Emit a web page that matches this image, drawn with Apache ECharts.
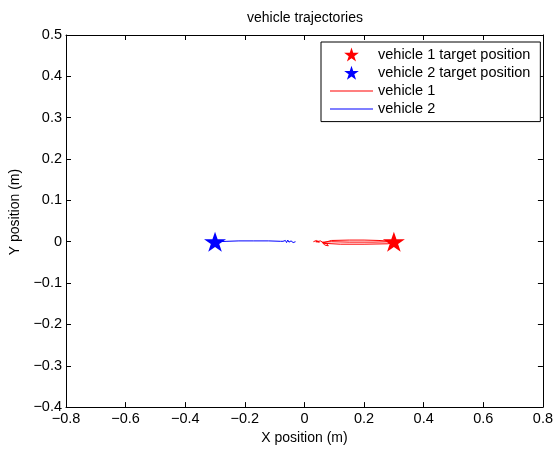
<!DOCTYPE html>
<html>
<head>
<meta charset="utf-8">
<script src="https://cdn.jsdelivr.net/npm/echarts@6/dist/echarts.min.js"></script>
<style>html,body{margin:0;padding:0;background:#fff}#c{width:556px;height:450px}</style>
</head>
<body>
<div id="c"></div>
<script>
// ---- data ----
const target1 = [[0.30, 0.0]];
const target2 = [[-0.30, 0.0]];
const vehicle1X = [0.030, 0.040, 0.050, 0.045, 0.038, 0.055, 0.068, 0.080, 0.075, 0.062, 0.090, 0.150, 0.200, 0.250, 0.290, 0.305, 0.280, 0.200, 0.120, 0.070, 0.060, 0.090, 0.150, 0.230, 0.290, 0.300];
const vehicle1Y = [0.000, 0.003, -0.001, -0.004, 0.000, 0.002, -0.008, -0.010, -0.005, -0.003, 0.003, 0.004, 0.004, 0.003, 0.001, -0.001, -0.005, -0.006, -0.006, -0.004, -0.001, 0.000, -0.001, -0.001, 0.000, 0.000];
const vehicle2X = [-0.030, -0.038, -0.045, -0.052, -0.056, -0.060, -0.064, -0.068, -0.072, -0.080, -0.120, -0.170, -0.220, -0.260, -0.290, -0.300];
const vehicle2Y = [0.000, -0.002, 0.002, -0.001, 0.004, -0.002, 0.003, -0.001, 0.001, 0.001, 0.002, 0.002, 0.002, 0.001, 0.000, 0.000];
const xTicks = [-0.8, -0.6, -0.4, -0.2, 0, 0.2, 0.4, 0.6, 0.8];
const yTicks = [-0.4, -0.3, -0.2, -0.1, 0, 0.1, 0.2, 0.3, 0.4, 0.5];

const starPath = 'path://M0,-100 L22.45,-30.9 L95.1,-30.9 L36.3,11.8 L58.8,80.9 L0,38.2 L-58.8,80.9 L-36.3,11.8 L-95.1,-30.9 L-22.45,-30.9 Z';
const linePath = 'path://M0,0 H430 V10 H0 Z';
const FONT = "'Liberation Sans', Arial, Helvetica, sans-serif";
const FS = 14.5;
const fmt = v => String(Math.round(v * 10) / 10).replace('-', '\u2212');
const zip = (a, b) => a.map((v, i) => [v, b[i]]);

const axisCommon = {
  type: 'value',
  splitLine: { show: false },
  axisLine: { show: true, onZero: false, lineStyle: { color: '#000', width: 1 } },
  axisTick: { show: true, inside: true, length: 5, lineStyle: { color: '#000' } },
};

const chart = echarts.init(document.getElementById('c'), null, { renderer: 'canvas' });
chart.setOption({
  animation: false,
  backgroundColor: '#fff',
  textStyle: { fontFamily: FONT },
  title: {
    text: 'vehicle trajectories', left: 305, top: 11, textAlign: 'center', padding: 0,
    textStyle: { fontFamily: FONT, fontSize: 14, fontWeight: 'normal', color: '#000' }
  },
  grid: { left: 66, right: 12, top: 35, bottom: 39, containLabel: false },
  xAxis: [
    Object.assign({}, axisCommon, {
      position: 'bottom', min: xTicks[0], max: xTicks[xTicks.length - 1], interval: 0.2,
      name: 'X position (m)', nameLocation: 'middle', nameGap: 22,
      nameTextStyle: { fontFamily: FONT, fontSize: 14, color: '#000' },
      axisLabel: { margin: 4, fontFamily: FONT, fontSize: FS, color: '#000', formatter: fmt }
    }),
    Object.assign({}, axisCommon, {
      position: 'top', min: xTicks[0], max: xTicks[xTicks.length - 1], interval: 0.2,
      axisLabel: { show: false }
    })
  ],
  yAxis: [
    Object.assign({}, axisCommon, {
      position: 'left', min: yTicks[0], max: yTicks[yTicks.length - 1], interval: 0.1,
      name: 'Y position (m)', nameLocation: 'middle', nameGap: 43,
      nameTextStyle: { fontFamily: FONT, fontSize: 14, color: '#000', padding: [0, 0, 0, 18] },
      axisLabel: { margin: 4, fontFamily: FONT, fontSize: FS, color: '#000', formatter: fmt }
    }),
    Object.assign({}, axisCommon, {
      position: 'right', min: yTicks[0], max: yTicks[yTicks.length - 1], interval: 0.1,
      axisLabel: { show: false }
    })
  ],
  legend: {
    orient: 'vertical', left: 321, top: 42,
    padding: [5, 10, 5, 9],
    itemWidth: 43, itemHeight: 14, itemGap: 3.2,
    symbolKeepAspect: true,
    borderColor: '#000', borderWidth: 1, backgroundColor: '#fff',
    textStyle: { fontFamily: FONT, fontSize: FS, lineHeight: 14, color: '#000' },
    data: [
      { name: 'vehicle 1 target position', icon: starPath, itemStyle: { color: '#ff0000', opacity: 1 } },
      { name: 'vehicle 2 target position', icon: starPath, itemStyle: { color: '#0000ff', opacity: 1 } },
      { name: 'vehicle 1', icon: linePath, itemStyle: { color: '#ff0000', opacity: 1, borderWidth: 0 } },
      { name: 'vehicle 2', icon: linePath, itemStyle: { color: '#0000ff', opacity: 1, borderWidth: 0 } }
    ]
  },
  series: [
    {
      name: 'vehicle 1', type: 'line', xAxisIndex: 0, yAxisIndex: 0,
      data: zip(vehicle1X, vehicle1Y), showSymbol: false, symbol: 'none',
      lineStyle: { color: '#ff0000', width: 1 }, itemStyle: { color: '#ff0000' }, z: 2
    },
    {
      name: 'vehicle 2', type: 'line', xAxisIndex: 0, yAxisIndex: 0,
      data: zip(vehicle2X, vehicle2Y), showSymbol: false, symbol: 'none',
      lineStyle: { color: '#0000ff', width: 1 }, itemStyle: { color: '#0000ff' }, z: 2
    },
    {
      name: 'vehicle 1 target position', type: 'scatter', data: target1,
      symbol: starPath, symbolSize: [22, 21], symbolKeepAspect: true,
      itemStyle: { color: '#ff0000', opacity: 1 }, z: 3
    },
    {
      name: 'vehicle 2 target position', type: 'scatter', data: target2,
      symbol: starPath, symbolSize: [22, 21], symbolKeepAspect: true,
      itemStyle: { color: '#0000ff', opacity: 1 }, z: 3
    }
  ]
});
</script>
</body>
</html>
